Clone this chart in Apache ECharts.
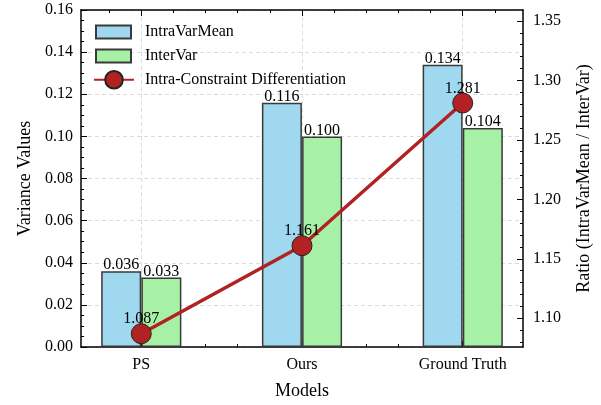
<!DOCTYPE html>
<html>
<head>
<meta charset="utf-8">
<script src="https://cdn.jsdelivr.net/npm/echarts@6/dist/echarts.min.js"></script>
<style>
  html, body { margin: 0; padding: 0; background: #fff; }
  #chart { width: 601px; height: 405px; }
</style>
</head>
<body>
<div id="chart"></div>
<script>
const models = ['PS', 'Ours', 'Ground Truth']
const intraVarMean = [0.036, 0.116, 0.134]
const interVar = [0.033, 0.100, 0.104]
const ratio = [1.087, 1.161, 1.281]
const ratioTicks = [1.10, 1.15, 1.20, 1.25, 1.30, 1.35]

const FONT = 'Liberation Serif'
const modelIdx = models.map((m, i) => i)

// minor tick positions (matplotlib style, inward)
const xMinor = []
for (let v = -0.2; v <= 2.3; v += 0.2) xMinor.push(Math.round(v * 10) / 10)
const rMinor = []
for (let v = 1.08; v <= 1.355; v += 0.01) rMinor.push(Math.round(v * 100) / 100)

const chart = echarts.init(document.getElementById('chart'))

const tickStyle = { color: '#000', width: 1 }
const axisLineStyle = { color: '#000', width: 1.5 }
const legendText = { fontFamily: FONT, fontSize: 16, color: '#000', padding: [0, 0, 0, 9] }

const option = {
  animation: false,
  textStyle: { fontFamily: FONT },
  grid: { left: 81, right: 74, top: 10, bottom: 55 },
  legend: [
    {
      orient: 'vertical',
      left: 90,
      top: 19,
      icon: 'rect',
      itemWidth: 35,
      itemHeight: 13,
      itemGap: 8,
      textStyle: legendText,
      data: ['IntraVarMean', 'InterVar']
    },
    {
      orient: 'vertical',
      left: 88,
      top: 65,
      itemWidth: 40,
      itemHeight: 22,
      textStyle: { fontFamily: FONT, fontSize: 16, color: '#000', padding: [0, 0, 0, 6] },
      data: ['Intra-Constraint Differentiation']
    }
  ],
  xAxis: [
    {
      type: 'value',
      position: 'bottom',
      min: -0.375,
      max: 2.375,
      name: 'Models',
      nameLocation: 'middle',
      nameGap: 35,
      nameTextStyle: { fontFamily: FONT, fontSize: 18, color: '#000' },
      axisLine: { onZero: false, lineStyle: axisLineStyle },
      axisTick: { inside: true, length: 6, customValues: modelIdx, lineStyle: tickStyle },
      axisLabel: {
        customValues: modelIdx,
        formatter: v => models[Math.round(v)],
        fontFamily: FONT, fontSize: 16, color: '#000', margin: 10
      },
      splitLine: { show: true, lineStyle: { color: '#dcdcdc', type: [4, 3], width: 1 } }
    },
    {
      type: 'value', position: 'bottom', min: -0.375, max: 2.375,
      axisLine: { show: false, onZero: false },
      axisTick: { inside: true, length: 3, customValues: xMinor, lineStyle: tickStyle },
      axisLabel: { show: false },
      splitLine: { show: false }
    },
    {
      type: 'value', position: 'top', min: -0.375, max: 2.375,
      axisLine: { onZero: false, lineStyle: axisLineStyle },
      axisTick: { inside: true, length: 6, customValues: modelIdx, lineStyle: tickStyle },
      axisLabel: { show: false },
      splitLine: { show: false }
    },
    {
      type: 'value', position: 'top', min: -0.375, max: 2.375,
      axisLine: { show: false, onZero: false },
      axisTick: { inside: true, length: 3, customValues: xMinor, lineStyle: tickStyle },
      axisLabel: { show: false },
      splitLine: { show: false }
    }
  ],
  yAxis: [
    {
      type: 'value',
      position: 'left',
      min: 0,
      max: 0.16,
      interval: 0.02,
      name: 'Variance Values',
      nameLocation: 'middle',
      nameGap: 47,
      nameTextStyle: { fontFamily: FONT, fontSize: 18, color: '#000' },
      axisLine: { show: true, onZero: false, lineStyle: axisLineStyle },
      axisTick: { show: true, inside: true, length: 6, lineStyle: tickStyle },
      minorTick: { show: true, splitNumber: 4, length: 3, lineStyle: tickStyle },
      axisLabel: { formatter: v => v.toFixed(2), fontFamily: FONT, fontSize: 16, color: '#000', margin: 8 },
      splitLine: { show: true, lineStyle: { color: '#dcdcdc', type: [4, 3], width: 1 } }
    },
    {
      type: 'value',
      position: 'right',
      min: 1.07583,
      max: 1.35917,
      name: 'Ratio (IntraVarMean / InterVar)',
      nameLocation: 'middle',
      nameGap: 52,
      nameRotate: 90,
      nameTextStyle: { fontFamily: FONT, fontSize: 18, color: '#000' },
      axisLine: { show: true, onZero: false, lineStyle: axisLineStyle },
      axisTick: { show: true, inside: true, length: 6, customValues: ratioTicks, lineStyle: tickStyle },
      axisLabel: {
        customValues: ratioTicks,
        formatter: v => v.toFixed(2),
        fontFamily: FONT, fontSize: 16, color: '#000', margin: 10
      },
      splitLine: { show: false }
    },
    {
      type: 'value', position: 'right', min: 1.07583, max: 1.35917,
      axisLine: { show: false, onZero: false },
      axisTick: { show: true, inside: true, length: 3, customValues: rMinor, lineStyle: tickStyle },
      axisLabel: { show: false },
      splitLine: { show: false }
    }
  ],
  series: [
    {
      name: 'IntraVarMean',
      type: 'bar',
      xAxisIndex: 0,
      yAxisIndex: 0,
      barWidth: 40,
      barGap: '-100%',
      data: intraVarMean.map((v, i) => [i - 0.125, v]),
      itemStyle: { color: '#9FD8EF', borderColor: '#3a3a3a', borderWidth: 1.5 },
      label: {
        show: true, position: 'top', distance: -2,
        formatter: p => p.value[1].toFixed(3),
        fontFamily: FONT, fontSize: 16, color: '#000'
      },
      z: 2
    },
    {
      name: 'InterVar',
      type: 'bar',
      xAxisIndex: 0,
      yAxisIndex: 0,
      barWidth: 40,
      barGap: '-100%',
      data: interVar.map((v, i) => [i + 0.125, v]),
      itemStyle: { color: '#A6F1A6', borderColor: '#3a3a3a', borderWidth: 1.5 },
      label: {
        show: true, position: 'top', distance: -2,
        formatter: p => p.value[1].toFixed(3),
        fontFamily: FONT, fontSize: 16, color: '#000'
      },
      z: 2
    },
    {
      name: 'Intra-Constraint Differentiation',
      type: 'line',
      xAxisIndex: 0,
      yAxisIndex: 1,
      data: ratio.map((v, i) => [i, v]),
      symbol: 'circle',
      symbolSize: 20,
      lineStyle: { color: '#B22222', width: 3.5 },
      itemStyle: { color: '#B22222', borderColor: '#222', borderWidth: 1 },
      label: {
        show: true, position: 'top', distance: -4,
        formatter: p => p.value[1].toFixed(3),
        fontFamily: FONT, fontSize: 16, color: '#000'
      },
      z: 3
    }
  ]
}

chart.setOption(option)
</script>
</body>
</html>
